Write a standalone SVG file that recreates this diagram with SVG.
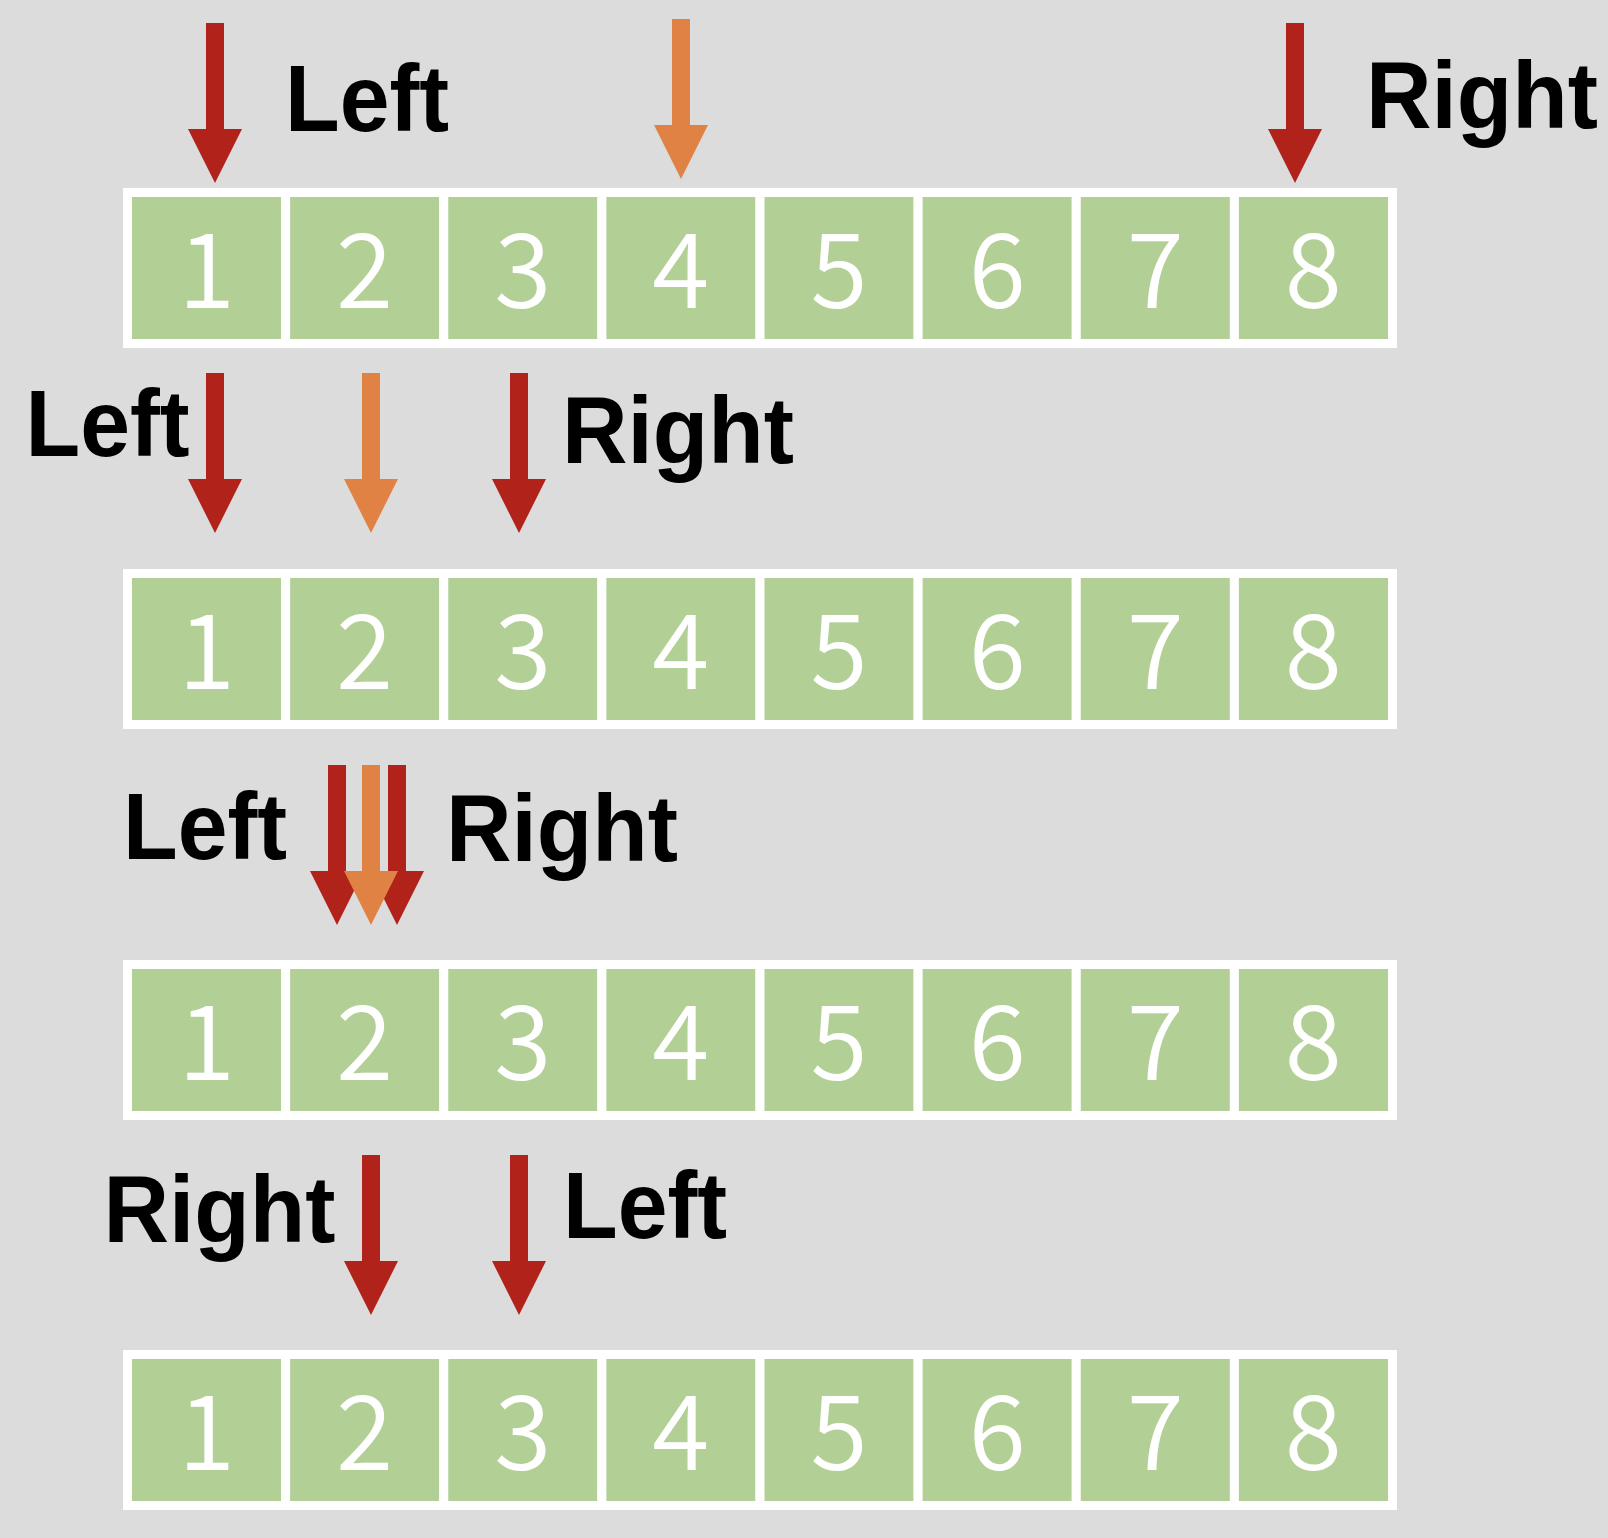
<svg xmlns="http://www.w3.org/2000/svg" xmlns:xlink="http://www.w3.org/1999/xlink" width="1608" height="1538" viewBox="0 0 1608 1538">
<style>
.cell{fill:#B2CF96;stroke:#FFFFFF;stroke-width:9}
.num{font-family:"Noto Sans CJK SC","Noto Sans",sans-serif;font-weight:350;font-size:104px;fill:#FFFFFF;text-anchor:middle}
.lbl{font-family:"Liberation Sans",Arial,sans-serif;font-weight:bold;font-size:94px;fill:#000000}
.red{fill:#B0221A}
.org{fill:#E08244}
</style>
<defs>
<path id="arr" d="M-9,0 H9 V106 H27 L0,160 L-27,106 H-9 Z"/>
<g id="row">
<rect class="cell" x="127.5" y="4.5" width="158.125" height="151"/>
<rect class="cell" x="285.625" y="4.5" width="158.125" height="151"/>
<rect class="cell" x="443.75" y="4.5" width="158.125" height="151"/>
<rect class="cell" x="601.875" y="4.5" width="158.125" height="151"/>
<rect class="cell" x="760" y="4.5" width="158.125" height="151"/>
<rect class="cell" x="918.125" y="4.5" width="158.125" height="151"/>
<rect class="cell" x="1076.25" y="4.5" width="158.125" height="151"/>
<rect class="cell" x="1234.375" y="4.5" width="158.125" height="151"/>
<text class="num" x="206.5" y="119.5">1</text>
<text class="num" x="364.6" y="119.5">2</text>
<text class="num" x="522.7" y="119.5">3</text>
<text class="num" x="680.9" y="119.5">4</text>
<text class="num" x="839" y="119.5">5</text>
<text class="num" x="997.2" y="119.5">6</text>
<text class="num" x="1155.3" y="119.5">7</text>
<text class="num" x="1313.4" y="119.5">8</text>
</g>
</defs>
<rect x="0" y="0" width="1608" height="1538" fill="#DCDCDC"/>

<g id="array1"><use xlink:href="#row" transform="translate(0,188)"/></g>
<g id="array2"><use xlink:href="#row" transform="translate(0,569)"/></g>
<g id="array3"><use xlink:href="#row" transform="translate(0,960)"/></g>
<g id="array4"><use xlink:href="#row" transform="translate(0,1350)"/></g>

<g id="labels">
<g id="label1-left"><text class="lbl" x="285" y="131" textLength="164" lengthAdjust="spacingAndGlyphs">Left</text></g>
<g id="label1-right"><text class="lbl" x="1366" y="128" textLength="232" lengthAdjust="spacingAndGlyphs">Right</text></g>
<g id="label2-left"><text class="lbl" x="25.5" y="456" textLength="164" lengthAdjust="spacingAndGlyphs">Left</text></g>
<g id="label2-right"><text class="lbl" x="562" y="463" textLength="232" lengthAdjust="spacingAndGlyphs">Right</text></g>
<g id="label3-left"><text class="lbl" x="123" y="859" textLength="164" lengthAdjust="spacingAndGlyphs">Left</text></g>
<g id="label3-right"><text class="lbl" x="446" y="861" textLength="232" lengthAdjust="spacingAndGlyphs">Right</text></g>
<g id="label4-right"><text class="lbl" x="103.5" y="1242" textLength="232" lengthAdjust="spacingAndGlyphs">Right</text></g>
<g id="label4-left"><text class="lbl" x="563" y="1238" textLength="164" lengthAdjust="spacingAndGlyphs">Left</text></g>
</g>

<g id="connectors">
<use class="red" xlink:href="#arr" transform="translate(215,23)"/>
<use class="org" xlink:href="#arr" transform="translate(681,19)"/>
<use class="red" xlink:href="#arr" transform="translate(1295,23)"/>

<use class="red" xlink:href="#arr" transform="translate(215,373)"/>
<use class="org" xlink:href="#arr" transform="translate(371,373)"/>
<use class="red" xlink:href="#arr" transform="translate(519,373)"/>

<use class="red" xlink:href="#arr" transform="translate(337,765)"/>
<use class="red" xlink:href="#arr" transform="translate(397,765)"/>
<use class="org" xlink:href="#arr" transform="translate(371,765)"/>

<use class="red" xlink:href="#arr" transform="translate(371,1155)"/>
<use class="red" xlink:href="#arr" transform="translate(519,1155)"/>
</g>
</svg>
